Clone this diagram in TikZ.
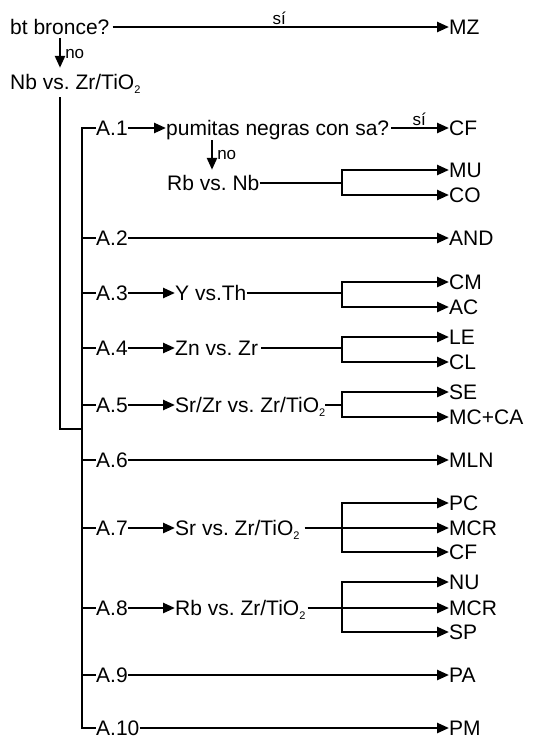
\documentclass[tikz,border=0pt]{standalone}
\usepackage{fontspec}
\setmainfont{Liberation Sans}
\usetikzlibrary{arrows.meta}
\newcommand{\subtwo}{\raisebox{-4pt}{\fontsize{11}{11}\selectfont 2}}
\begin{document}
\begin{tikzpicture}[x=1pt,y=-1pt,
  lbl/.style={inner sep=0pt, anchor=west, text height=14pt, text depth=0pt, font=\fontsize{21}{24}\selectfont},
  sm/.style={inner sep=0pt, font=\fontsize{17}{20}\selectfont},
  ln/.style={line width=2.5pt},
  arr/.style={line width=2.5pt, -{Triangle[length=12pt,width=10pt]}},
]
\fill[white] (0,0) rectangle (540,740);
\useasboundingbox (0,0) rectangle (540,740);
\coordinate (vx) at (60,0);
\coordinate (bx) at (82,0);
\coordinate (nx) at (212,0);
\coordinate (join) at (82,429);
% top
\node[lbl] (bt) at (10,27) {bt bronce?};
\node[lbl] (mz) at (449,27) {MZ};
\node[lbl] (nb) at (10,82) {Nb vs.\ Zr/TiO\subtwo};
\draw[arr,shorten <=3pt] (bt.east) -- node[sm,above=1.5pt]{sí} (mz.west);
\draw[arr,shorten <=4pt,shorten >=7pt] (bt.south -| vx) -- node[sm,right=4pt]{no} (nb.north -| vx);
\draw[ln,shorten <=8pt] (nb.south -| vx) |- (join);
% A labels
\node[lbl] (a1) at (96,128) {A.1};
\node[lbl] (a2) at (96,238) {A.2};
\node[lbl] (a3) at (96,293) {A.3};
\node[lbl] (a4) at (96,348) {A.4};
\node[lbl] (a5) at (96,405) {A.5};
\node[lbl] (a6) at (96,460) {A.6};
\node[lbl] (a7) at (96,528) {A.7};
\node[lbl] (a8) at (96,608) {A.8};
\node[lbl] (a9) at (96,675) {A.9};
\node[lbl] (a10) at (96,728) {A.10};
\draw[ln] (a1.west) -| (bx |- a10.west) -- (a10.west);
\foreach \n in {a2,a3,a4,a5,a6,a7,a8,a9} \draw[ln] (bx |- \n.west) -- (\n.west);
% A.1
\node[lbl] (pum) at (166,128) {pumitas negras con sa?};
\node[lbl] (cf1) at (449,128) {CF};
\draw[arr] (a1.east) -- (pum.west);
\draw[arr,shorten <=2pt] (pum.east) -- node[sm,above=1.5pt]{sí} (cf1.west);
\node[lbl] (rbnb) at (167,183) {Rb vs.\ Nb};
\draw[arr,shorten <=5pt,shorten >=6pt] (pum.south -| nx) -- node[sm,right=4pt]{no} (rbnb.north -| nx);
\node[lbl] (mu) at (449,170) {MU};
\node[lbl] (co) at (449,195) {CO};
\coordinate (b1) at (342,183);
\draw[ln] (rbnb.east) -- (b1);
\draw[arr] (b1) |- (mu.west);
\draw[arr] (b1) |- (co.west);
% A.2
\node[lbl] (and) at (449,238) {AND};
\draw[arr] (a2.east) -- (and.west);
% A.3
\node[lbl] (yth) at (175,293) {Y vs.Th};
\node[lbl] (cm) at (449,282) {CM};
\node[lbl] (ac) at (449,307) {AC};
\coordinate (b3) at (342,293);
\draw[arr] (a3.east) -- (yth.west);
\draw[ln] (yth.east) -- (b3);
\draw[arr] (b3) |- (cm.west);
\draw[arr] (b3) |- (ac.west);
% A.4
\node[lbl] (znzr) at (175,348) {Zn vs.\ Zr};
\node[lbl] (le) at (449,337) {LE};
\node[lbl] (cl) at (449,362) {CL};
\coordinate (b4) at (342,348);
\draw[arr] (a4.east) -- (znzr.west);
\draw[ln,shorten <=3pt] (znzr.east) -- (b4);
\draw[arr] (b4) |- (le.west);
\draw[arr] (b4) |- (cl.west);
% A.5
\node[lbl] (srzr) at (175,405) {Sr/Zr vs.\ Zr/TiO\subtwo};
\node[lbl] (se) at (449,392) {SE};
\node[lbl] (mcca) at (449,417) {MC+CA};
\coordinate (b5) at (342,405);
\draw[arr] (a5.east) -- (srzr.west);
\draw[ln] (srzr.east) -- (b5);
\draw[arr] (b5) |- (se.west);
\draw[arr] (b5) |- (mcca.west);
% A.6
\node[lbl] (mln) at (449,460) {MLN};
\draw[arr] (a6.east) -- (mln.west);
% A.7
\node[lbl] (srti) at (175,528) {Sr vs.\ Zr/TiO\subtwo};
\node[lbl] (pc) at (449,503) {PC};
\node[lbl] (mcr1) at (449,528) {MCR};
\node[lbl] (cf2) at (449,552) {CF};
\coordinate (b7) at (342,528);
\draw[arr] (a7.east) -- (srti.west);
\draw[arr,shorten <=5pt] (srti.east) -- (mcr1.west);
\draw[arr] (b7) |- (pc.west);
\draw[arr] (b7) |- (cf2.west);
% A.8
\node[lbl] (rbti) at (175,608) {Rb vs.\ Zr/TiO\subtwo};
\node[lbl] (nu) at (449,582) {NU};
\node[lbl] (mcr2) at (449,608) {MCR};
\node[lbl] (sp) at (449,632) {SP};
\coordinate (b8) at (342,608);
\draw[arr] (a8.east) -- (rbti.west);
\draw[arr,shorten <=2pt] (rbti.east) -- (mcr2.west);
\draw[arr] (b8) |- (nu.west);
\draw[arr] (b8) |- (sp.west);
% A.9, A.10
\node[lbl] (pa) at (449,675) {PA};
\node[lbl] (pm) at (449,728) {PM};
\draw[arr] (a9.east) -- (pa.west);
\draw[arr] (a10.east) -- (pm.west);
\end{tikzpicture}
\end{document}
